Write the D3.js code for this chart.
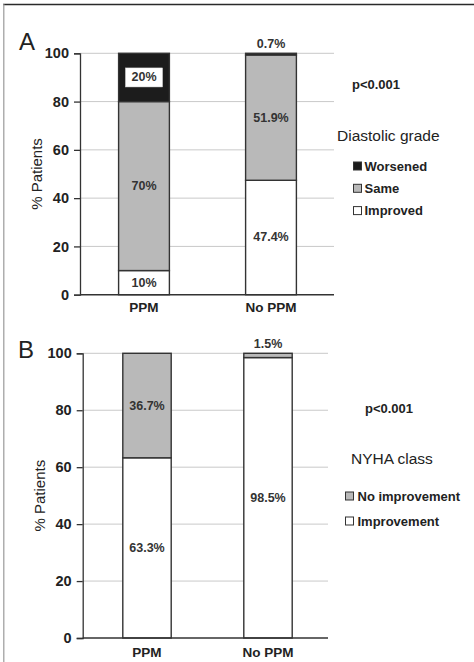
<!DOCTYPE html>
<html>
<head>
<meta charset="utf-8">
<script src="https://cdn.jsdelivr.net/npm/d3@7"></script>
<style>
  html, body { margin: 0; padding: 0; background: #fff; }
  svg { display: block; font-family: "Liberation Sans", Arial, sans-serif; }
</style>
</head>
<body>
<svg id="fig" width="474" height="662"></svg>
<script>
// Groups compared in both panels
const groups = ["PPM", "No PPM"];
const yTicks = [0, 20, 40, 60, 80, 100];

// Panel A: change in diastolic grade (% of patients)
const diastolicKeys = ["Improved", "Same", "Worsened"];
const diastolicImproved = [10, 47.4];
const diastolicSame = [70, 51.9];
const diastolicWorsened = [20, 0.7];
const diastolicLabels = [["10%", "70%", "20%"], ["47.4%", "51.9%", "0.7%"]];

// Panel B: change in NYHA class (% of patients)
const nyhaKeys = ["Improvement", "No improvement"];
const nyhaImprovement = [63.3, 98.5];
const nyhaNoImprovement = [36.7, 1.5];
const nyhaLabels = [["63.3%", "36.7%"], ["98.5%", "1.5%"]];

const fills = {
  Improved: "#ffffff", Same: "#b9b9b9", Worsened: "#1c1c1c",
  Improvement: "#ffffff", "No improvement": "#b9b9b9"
};

const svg = d3.select("#fig");

// Figure frame: dark rule along the top, lighter rule down the left side
svg.append("line").attr("x1", 3).attr("x2", 474).attr("y1", 4.5).attr("y2", 4.5)
  .attr("stroke", "#2a2a2a").attr("stroke-width", 1.6);
svg.append("line").attr("x1", 3.8).attr("x2", 3.8).attr("y1", 4).attr("y2", 662)
  .attr("stroke", "#9a9a9a").attr("stroke-width", 1.2);

function panel(cfg) {
  const rows = groups.map((g, i) => {
    const r = { group: g };
    cfg.keys.forEach((k, j) => { r[k] = cfg.values[j][i]; });
    return r;
  });
  const stacked = d3.stack().keys(cfg.keys)(rows);

  const x = d3.scaleBand().domain(groups).range(cfg.xRange).paddingInner(cfg.pad).paddingOuter(cfg.pad / 2);
  const y = d3.scaleLinear().domain([0, 100]).range(cfg.yRange);

  const g = svg.append("g");

  // horizontal grid
  g.append("g").selectAll("line").data(yTicks.filter(t => t > 0)).join("line")
    .attr("x1", cfg.axisX).attr("x2", cfg.axisEnd)
    .attr("y1", d => y(d)).attr("y2", d => y(d))
    .attr("stroke", "#c9c9c9").attr("stroke-width", 1);

  // bars
  stacked.forEach(layer => {
    g.append("g").selectAll("rect").data(layer).join("rect")
      .attr("x", d => x(d.data.group))
      .attr("width", x.bandwidth())
      .attr("y", d => y(d[1]))
      .attr("height", d => y(d[0]) - y(d[1]))
      .attr("fill", fills[layer.key])
      .attr("stroke", "#333")
      .attr("stroke-width", 1.4);
  });

  // y axis
  const yAxis = g.append("g").attr("transform", `translate(${cfg.axisX},0)`)
    .call(d3.axisLeft(y).tickValues(yTicks).tickSize(6).tickPadding(5));
  yAxis.select(".domain").attr("stroke", "#333").attr("stroke-width", 1.3);
  yAxis.selectAll(".tick line").attr("stroke", "#333").attr("stroke-width", 1.3);
  yAxis.selectAll(".tick text").attr("font-size", 14.5).attr("font-weight", "bold")
    .attr("fill", "#222").attr("font-family", "Liberation Sans, Arial, sans-serif");

  // x axis baseline and category labels
  g.append("line").attr("x1", cfg.axisX).attr("x2", cfg.axisEnd)
    .attr("y1", y(0)).attr("y2", y(0)).attr("stroke", "#333").attr("stroke-width", 1.4);
  g.append("g").selectAll("text").data(groups).join("text")
    .attr("x", d => x(d) + x.bandwidth() / 2)
    .attr("y", cfg.catY)
    .attr("text-anchor", "middle").attr("font-size", 13.5).attr("font-weight", "bold")
    .attr("fill", "#222").text(d => d);

  // y axis title
  g.append("text")
    .attr("transform", `translate(${cfg.titleX},${(cfg.yRange[0] + cfg.yRange[1]) / 2}) rotate(-90)`)
    .attr("text-anchor", "middle").attr("font-size", 15).attr("fill", "#222")
    .text("% Patients");

  // panel letter
  g.append("text").attr("x", cfg.letterX).attr("y", cfg.letterY)
    .attr("font-size", 24).attr("fill", "#222").text(cfg.letter);

  // value labels
  stacked.forEach((layer, li) => {
    layer.forEach((d, gi) => {
      const text = cfg.labels[gi][li];
      const cx = x(d.data.group) + x.bandwidth() / 2;
      const h = d[1] - d[0];
      const thin = h < 3;
      const cy = thin ? y(d[1]) - 5 : y((d[0] + d[1]) / 2) + 4;   // thin slice: label above the bar
      if (!thin && cfg.boxed && cfg.boxed(layer.key)) {
        g.append("rect").attr("x", cx - 18.5).attr("y", cy - 13.5).attr("width", 37).attr("height", 19)
          .attr("fill", "#fff").attr("stroke", "#ddd").attr("stroke-width", 0.5);
      }
      g.append("text").attr("x", cx).attr("y", cy)
        .attr("text-anchor", "middle").attr("font-size", 12.5).attr("font-weight", "bold")
        .attr("fill", "#333").text(text);
    });
  });

  // p value
  g.append("text").attr("x", cfg.pX).attr("y", cfg.pY)
    .attr("font-size", 13).attr("font-weight", "bold").attr("fill", "#222").text("p<0.001");

  // legend
  g.append("text").attr("x", cfg.legTitleX).attr("y", cfg.legTitleY)
    .attr("font-size", 15.5).attr("fill", "#222").text(cfg.legTitle);
  const legKeys = cfg.keys.slice().reverse();
  const li = g.append("g").selectAll("g").data(legKeys).join("g")
    .attr("transform", (d, i) => `translate(${cfg.legX},${cfg.legY + i * cfg.legStep})`);
  li.append("rect").attr("x", 0).attr("y", -4).attr("width", 8).attr("height", 8)
    .attr("fill", d => fills[d]).attr("stroke", "#333").attr("stroke-width", 1);
  li.append("text").attr("x", cfg.legTextDx).attr("y", 4.5)
    .attr("font-size", 13).attr("font-weight", "bold").attr("fill", "#222").text(d => d);
}

panel({
  keys: diastolicKeys,
  values: [diastolicImproved, diastolicSame, diastolicWorsened],
  labels: diastolicLabels,
  xRange: [80.5, 334.5], pad: 0.6,
  yRange: [294.7, 53.3],
  axisX: 80, axisEnd: 334,
  catY: 312, titleX: 42,
  letter: "A", letterX: 19, letterY: 50,
  boxed: k => k === "Worsened",
  pX: 352, pY: 89,
  legTitle: "Diastolic grade", legTitleX: 337, legTitleY: 141,
  legX: 353.5, legY: 166, legStep: 22.3, legTextDx: 11
});

panel({
  keys: nyhaKeys,
  values: [nyhaImprovement, nyhaNoImprovement],
  labels: nyhaLabels,
  xRange: [86.5, 328.5], pad: 0.6,
  yRange: [638, 353.3],
  axisX: 82.7, axisEnd: 328,
  catY: 657, titleX: 45,
  letter: "B", letterX: 18, letterY: 358,
  boxed: null,
  pX: 365, pY: 413,
  legTitle: "NYHA class", legTitleX: 351, legTitleY: 464,
  legX: 345.5, legY: 496, legStep: 25, legTextDx: 12
});
</script>
</body>
</html>
